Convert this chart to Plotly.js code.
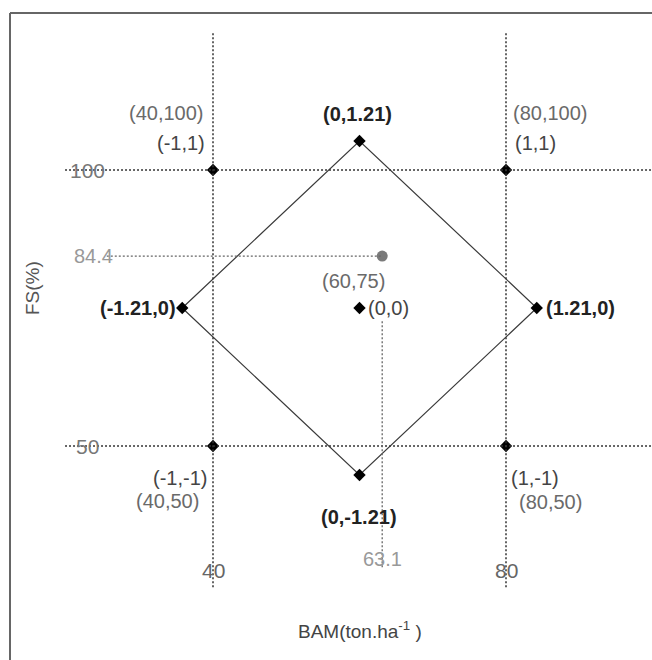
<!DOCTYPE html>
<html>
<head>
<meta charset="utf-8">
<script src="https://cdn.plot.ly/plotly-3.0.1.min.js"></script>
<style>html,body{margin:0;padding:0;background:#fff;}#chart{width:652px;height:660px;}</style>
</head>
<body>
<div id="chart"></div>
<script>
// Design points in real units: BAM (ton/ha) and FS (%)
const factorialBAM = [40, 80, 40, 80];
const factorialFS  = [100, 100, 50, 50];
const factorialActualLabels = ['(40,100)', '(80,100)', '(40,50)', '(80,50)'];
const factorialCodedLabels  = ['(-1,1)', '(1,1)', '(-1,-1)', '(1,-1)'];

// Star (axial) points, in diamond order: left, top, right, bottom
const starBAM = [35.8, 60, 84.2, 60];
const starFS  = [75, 105.25, 75, 44.75];
const starLabels = ['(-1.21,0)', '(0,1.21)', '(1.21,0)', '(0,-1.21)'];

// Centre point
const centerBAM = [60];
const centerFS  = [75];
const centerCodedLabel = '(0,0)';
const centerActualLabel = '(60,75)';

// Optimum
const optBAM = [63.1];
const optFS  = [84.4];

// Axis level labels
const bamTickVals = [40, 80];
const bamTickText = ['40', '80'];
const fsTickVals = [100, 50];
const fsTickText = ['100', '50'];

const fontFam = 'Liberation Sans, Arial, sans-serif';
const FS = 20;

const traces = [
  { // diamond outline through star points
    x: starBAM.concat([starBAM[0]]), y: starFS.concat([starFS[0]]),
    mode: 'lines', line: {color: '#3a3a3a', width: 1.2}, hoverinfo: 'skip'
  },
  {
    x: factorialBAM.concat(starBAM, centerBAM), y: factorialFS.concat(starFS, centerFS),
    mode: 'markers', marker: {symbol: 'diamond', size: 9.5, color: '#000'}
  },
  {
    x: optBAM, y: optFS, mode: 'markers',
    marker: {symbol: 'circle', size: 11, color: '#7a7a7a'}
  }
];

const dotted = {color: '#333', width: 1.5, dash: '2px,2px'};
const dottedGray = {color: '#666', width: 1.3, dash: '2px,2px'};
const shapes = [];
bamTickVals.forEach(v => shapes.push({type: 'line', xref: 'x', yref: 'y', x0: v, x1: v, y0: 24.4, y1: 125.0, line: dotted}));
fsTickVals.forEach(v => shapes.push({type: 'line', xref: 'x', yref: 'y', x0: 19.8, x1: 100, y0: v, y1: v, line: dotted}));
shapes.push({type: 'line', xref: 'x', yref: 'y', x0: 25.5, x1: optBAM[0], y0: optFS[0], y1: optFS[0], line: dottedGray});
shapes.push({type: 'line', xref: 'x', yref: 'y', x0: optBAM[0], x1: optBAM[0], y0: 72.6, y1: 27.8, line: dottedGray});
// frame (top and left edges)
shapes.push({type: 'line', xref: 'paper', yref: 'paper', x0: 10/652, x1: 1, y0: 1 - 13/660, y1: 1 - 13/660, line: {color: '#666', width: 2}});
shapes.push({type: 'line', xref: 'paper', yref: 'paper', x0: 10/652, x1: 10/652, y0: 0, y1: 1 - 13/660, line: {color: '#666', width: 2}});

const ann = [];
function lab(x, y, text, xanchor, xshift, yshift, color, size, weight) {
  ann.push({x: x, y: y, xref: 'x', yref: 'y', text: text, showarrow: false,
    xanchor: xanchor, yanchor: 'middle', xshift: xshift, yshift: yshift,
    font: {family: fontFam, size: size || FS, color: color, weight: weight || 'normal'}});
}
// factorial labels
const fShift = [
  {a: 'right', xa: -7, ya: 57, xc: -6, yc: 27},
  {a: 'left', xa: 5, ya: 57, xc: 7, yc: 27},
  {a: 'right', xa: -12, ya: -55, xc: -4, yc: -32},
  {a: 'left', xa: 11, ya: -56, xc: 3, yc: -32}
];
factorialBAM.forEach((b, i) => {
  const s = fShift[i];
  lab(b, factorialFS[i], factorialActualLabels[i], s.a, s.xa, s.ya, '#6a6a6a');
  lab(b, factorialFS[i], factorialCodedLabels[i], s.a, s.xc, s.yc, '#444');
});
// star labels
const sShift = [
  {a: 'right', x: -4, y: 0}, {a: 'center', x: -2, y: 27},
  {a: 'left', x: 7, y: 0}, {a: 'center', x: -1, y: -42}
];
starBAM.forEach((b, i) => {
  const s = sShift[i];
  lab(b, starFS[i], starLabels[i], s.a, s.x, s.y, '#222', FS, 'bold');
});
lab(centerBAM[0], centerFS[0], centerCodedLabel, 'left', 6, 0, '#444');
lab(centerBAM[0], centerFS[0], centerActualLabel, 'center', -6, 27, '#6a6a6a');

// axis level labels
bamTickVals.forEach((v, i) => lab(v, 27.5, bamTickText[i], 'center', 0, 0, '#666', 21));
fsTickVals.forEach((v, i) => lab(22.8, v, fsTickText[i], 'center', 0, 0, '#777', 21));
lab(optBAM[0], 29.5, String(optBAM[0]), 'center', 0, 0, '#999', 20);
lab(23.7, optFS[0], String(optFS[0]), 'center', 0, 0, '#999', 20);

// axis titles
ann.push({x: 360/652, y: 1 - 630/660, xref: 'paper', yref: 'paper', showarrow: false,
  text: 'BAM(ton.ha<sup>-1</sup> )', xanchor: 'center', yanchor: 'middle',
  font: {family: fontFam, size: 19, color: '#444'}});
ann.push({x: 33/652, y: 1 - 288/660, xref: 'paper', yref: 'paper', showarrow: false,
  text: 'FS(%)', textangle: -90, xanchor: 'center', yanchor: 'middle',
  font: {family: fontFam, size: 19, color: '#555'}});

const layout = {
  width: 652, height: 660,
  margin: {l: 0, r: 0, t: 0, b: 0, autoexpand: false},
  paper_bgcolor: '#fff', plot_bgcolor: '#fff',
  showlegend: false,
  xaxis: {range: [10.922, 99.932], visible: false, fixedrange: true},
  yaxis: {range: [11.232, 130.797], visible: false, fixedrange: true},
  shapes: shapes,
  annotations: ann
};

Plotly.newPlot('chart', traces, layout, {displayModeBar: false, staticPlot: true});
</script>
</body>
</html>
